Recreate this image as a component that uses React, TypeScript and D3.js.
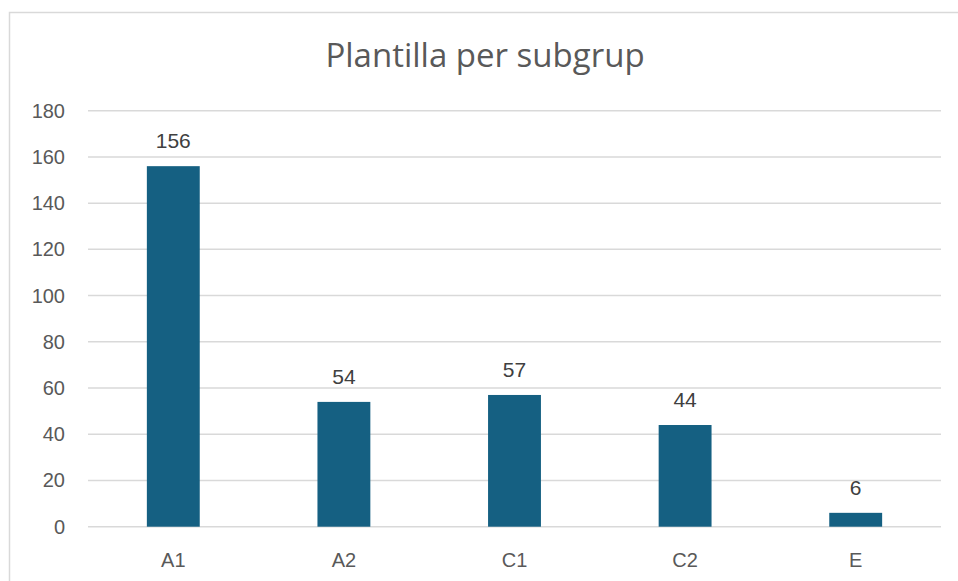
import * as d3 from "d3";

const categories = ["A1", "A2", "C1", "C2", "E"];
const values = [156, 54, 57, 44, 6];
const yTicks = [0, 20, 40, 60, 80, 100, 120, 140, 160, 180];

const WIDTH = 958;
const HEIGHT = 581;
const PLOT = { left: 88, right: 941, top: 110.7, bottom: 526.7 };
const BAR_COLOR = "#156082";
const GRID = "#d9d9d9";
const LABEL = "#595959";
const FONT = "'Liberation Sans', Arial, sans-serif";

export default function App() {
  const x = d3
    .scaleBand<string>()
    .domain(categories)
    .range([PLOT.left, PLOT.right])
    .padding(0);
  const y = d3.scaleLinear().domain([0, 180]).range([PLOT.bottom, PLOT.top]);
  const barW = x.bandwidth() * 0.31;

  return (
    <div style={{ position: "absolute", left: 0, top: 0 }}>
      <svg width={WIDTH} height={HEIGHT} style={{ display: "block", background: "#fff" }}>
        {/* chart area border, runs off the right and bottom of the crop */}
        <rect x={9.5} y={12.5} width={960} height={600} fill="#fff" stroke={GRID} strokeWidth={1.5} />

        <text
          x={485}
          y={67}
          textAnchor="middle"
          fill={LABEL}
          style={{ fontFamily: "'Open Sans', 'Noto Sans', sans-serif", fontSize: 33 }}
        >
          Plantilla per subgrup
        </text>

        {yTicks.map((t) => (
          <g key={t}>
            <line x1={PLOT.left} x2={PLOT.right} y1={y(t)} y2={y(t)} stroke={GRID} strokeWidth={1.5} />
            <text
              x={65}
              y={y(t) + 7}
              textAnchor="end"
              fill={LABEL}
              style={{ fontFamily: FONT, fontSize: 20 }}
            >
              {t}
            </text>
          </g>
        ))}

        {categories.map((c, i) => {
          const cx = (x(c) ?? 0) + x.bandwidth() / 2;
          const v = values[i];
          return (
            <g key={c}>
              <rect
                x={cx - barW / 2}
                y={y(v)}
                width={barW}
                height={y(0) - y(v)}
                fill={BAR_COLOR}
              />
              <text
                x={cx}
                y={y(v) - 18}
                textAnchor="middle"
                fill="#404040"
                style={{ fontFamily: FONT, fontSize: 21 }}
              >
                {v}
              </text>
              <text
                x={cx}
                y={567}
                textAnchor="middle"
                fill={LABEL}
                style={{ fontFamily: FONT, fontSize: 20 }}
              >
                {c}
              </text>
            </g>
          );
        })}
      </svg>
    </div>
  );
}
